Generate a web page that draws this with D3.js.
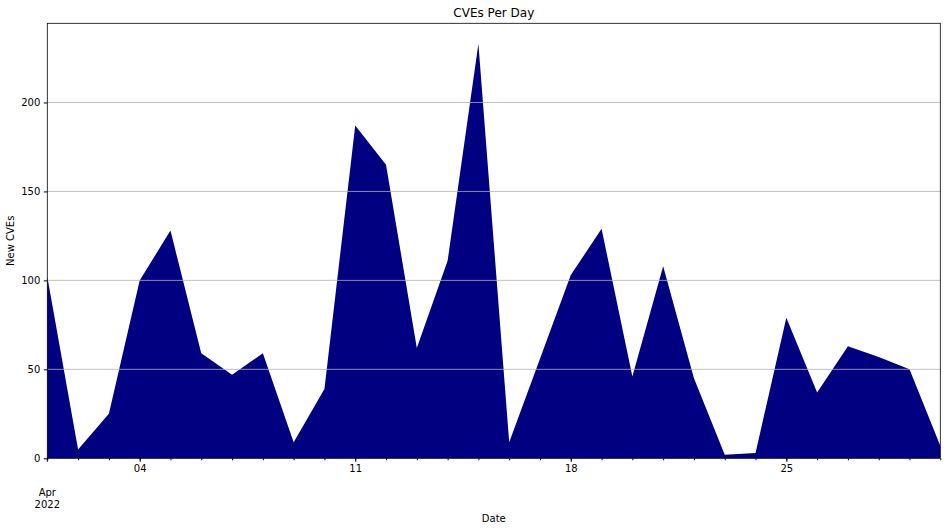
<!DOCTYPE html>
<html><head><meta charset="utf-8">
<script src="https://cdn.jsdelivr.net/npm/d3@7"></script>
<style>body{margin:0;background:#fff;} text{font-family:"DejaVu Sans",sans-serif;fill:#000;}</style>
</head><body>
<svg id="c" width="947" height="531"></svg>
<script>
const dates = ["2022-04-01","2022-04-02","2022-04-03","2022-04-04","2022-04-05","2022-04-06","2022-04-07","2022-04-08","2022-04-09","2022-04-10","2022-04-11","2022-04-12","2022-04-13","2022-04-14","2022-04-15","2022-04-16","2022-04-17","2022-04-18","2022-04-19","2022-04-20","2022-04-21","2022-04-22","2022-04-23","2022-04-24","2022-04-25","2022-04-26","2022-04-27","2022-04-28","2022-04-29","2022-04-30"];
const newCVEs = [102,5,25,100,128,59,47,59,9,39,187,165,62,111,233,9,56,103,129,46,108,45,2,3,79,37,63,57,50,7];
const yTicks = [0,50,100,150,200];
const majorTickDates = ["2022-04-04","2022-04-11","2022-04-18","2022-04-25"];
const title = "CVEs Per Day", xLabel = "Date", yLabel = "New CVEs";

const parse = d3.utcParse("%Y-%m-%d");
const data = dates.map((d,i)=>({date:parse(d), v:newCVEs[i]}));
const m = {l:47.3, r:947-940.3, t:23.3, b:531-458.3};
const W=947, H=531;
const svg = d3.select("#c");
const x = d3.scaleUtc().domain(d3.extent(data,d=>d.date)).range([m.l, W-m.r]);
const y = d3.scaleLinear().domain([0,244.5]).range([H-m.b, m.t]);

svg.append("path").datum(data)
  .attr("d", d3.area().x(d=>x(d.date)).y0(y(0)).y1(d=>y(d.v)))
  .attr("fill","#000080");

// grid
svg.append("g").selectAll("line").data(yTicks.filter(t=>t>0)).join("line")
  .attr("x1",m.l).attr("x2",W-m.r).attr("y1",d=>y(d)).attr("y2",d=>y(d))
  .attr("stroke","#b0b0b0").attr("stroke-width",0.8);

// y axis
const ya = svg.append("g").attr("transform",`translate(${m.l},0)`)
  .call(d3.axisLeft(y).tickValues(yTicks).tickSize(3.5).tickPadding(3.5));
ya.select(".domain").remove();
ya.selectAll("text").style("font-size","10px").style("font-family","DejaVu Sans");

// x axis minor (daily)
const xa = svg.append("g").attr("transform",`translate(0,${H-m.b})`)
  .call(d3.axisBottom(x).tickValues(data.map(d=>d.date)).tickSize(2).tickFormat(""));
xa.select(".domain").remove();
const xm = svg.append("g").attr("transform",`translate(0,${H-m.b})`)
  .call(d3.axisBottom(x).tickValues(majorTickDates.map(parse)).tickSize(3.5).tickPadding(3.5).tickFormat(d3.utcFormat("%d")));
xm.select(".domain").remove();
xm.selectAll("text").style("font-size","10px").style("font-family","DejaVu Sans");
svg.append("line").attr("x1",x(data[0].date)).attr("x2",x(data[0].date)).attr("y1",H-m.b).attr("y2",H-m.b+3.5).attr("stroke","#000");
const fl = svg.append("text").attr("x",x(data[0].date)).attr("text-anchor","middle").style("font-size","10px");
fl.append("tspan").attr("x",x(data[0].date)).attr("y",496).text(d3.utcFormat("%b")(data[0].date));
fl.append("tspan").attr("x",x(data[0].date)).attr("y",508).text(d3.utcFormat("%Y")(data[0].date));

// frame
svg.append("rect").attr("x",m.l).attr("y",m.t).attr("width",W-m.r-m.l).attr("height",H-m.b-m.t)
  .attr("fill","none").attr("stroke","#000").attr("stroke-width",0.8);

svg.append("text").attr("x",(m.l+W-m.r)/2).attr("y",17).attr("text-anchor","middle").style("font-size","12px").text(title);
svg.append("text").attr("x",(m.l+W-m.r)/2).attr("y",522).attr("text-anchor","middle").style("font-size","10px").text(xLabel);
svg.append("text").attr("transform",`translate(14,${(m.t+H-m.b)/2}) rotate(-90)`).attr("text-anchor","middle").style("font-size","10px").text(yLabel);
</script>
</body></html>
